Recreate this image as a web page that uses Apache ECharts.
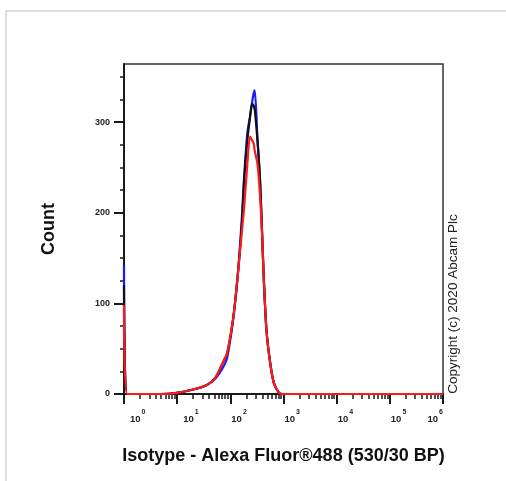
<!DOCTYPE html>
<html><head><meta charset="utf-8">
<script src="https://cdn.jsdelivr.net/npm/echarts@6/dist/echarts.min.js"></script>
<style>html,body{margin:0;padding:0;background:#fff}#c{width:506px;height:481px}</style>
</head><body><div id="c"></div>
<script>
// x values: log10 of fluorescence intensity (10^0 .. 10^6)
const logIntensity = [0, 0.06, 0.5, 0.7, 0.96, 1.30, 1.56, 1.72, 1.87, 1.94, 2.04, 2.10, 2.16, 2.22, 2.26, 2.32, 2.37, 2.41, 2.44, 2.46, 2.51, 2.56, 2.60, 2.63, 2.68, 2.75, 2.82, 2.92, 2.98, 3.5, 6];
const countBlue  = [142, 0, 0, 0, 1, 5, 10, 17, 30, 40, 76, 107, 146, 198, 240, 288, 306, 322, 332, 335, 282, 232, 173, 126, 70, 34, 12, 1, 0, 0, 0];
const countBlack = [120, 0, 0, 0, 1, 5, 10, 18, 36, 45, 78, 107, 144, 190, 236, 280, 305, 320, 318, 313, 280, 236, 173, 126, 70, 34, 12, 1, 0, 0, 0];
const countRed   = [98, 0, 0, 0, 1, 5, 10, 18, 36, 45, 78, 107, 144, 181, 206, 254, 284, 280, 276, 268, 254, 217, 173, 126, 70, 34, 12, 1, 0, 0, 0];
const decadeExponents = [0, 1, 2, 3, 4, 5, 6];
const yTickLabels = [0, 100, 200, 300];
const yMinorTicks = [25, 50, 75, 125, 150, 175, 225, 250, 275, 325, 350];
const xTitle = 'Isotype - Alexa Fluor®488 (530/30 BP)';
const yTitle = 'Count';
const copyright = 'Copyright (c) 2020 Abcam Plc';

const minorLogTicks = [];
for (let i = 0; i < decadeExponents.length - 1; i++) {
  for (let k = 2; k <= 9; k++) minorLogTicks.push(decadeExponents[i] + Math.log10(k));
}
const pts = arr => logIntensity.map((x, i) => [x, arr[i]]);
const FONT = 'Liberation Sans';
const INK = '#1a1a1a';
const chart = echarts.init(document.getElementById('c'), null, {renderer: 'canvas'});
chart.setOption({
  animation: false,
  backgroundColor: '#fff',
  grid: {left: 124, right: 63, top: 64, bottom: 87, show: true, borderColor: '#333', borderWidth: 1.5, backgroundColor: 'transparent'},
  xAxis: [{
    type: 'value', min: 0, max: 6, interval: 1, position: 'bottom',
    axisLine: {show: true, onZero: false, lineStyle: {color: INK, width: 2}},
    axisTick: {show: true, length: 10, lineStyle: {color: INK, width: 2}},
    splitLine: {show: false},
    axisLabel: {
      margin: 15, align: 'left', alignMaxLabel: 'right',
      formatter: (v) => {
        const e = Math.round(v);
        return (e <= 1 ? '{p|10}' : '{n|10}') + '{s|' + e + '}';
      },
      rich: {
        n: {fontFamily: FONT, fontWeight: 'bold', fontSize: 9.5, color: '#222', lineHeight: 15, verticalAlign: 'bottom', padding: [0, 0, 0, 1]},
        p: {fontFamily: FONT, fontWeight: 'bold', fontSize: 9.5, color: '#222', lineHeight: 15, verticalAlign: 'bottom', padding: [0, 0, 0, 6]},
        s: {fontFamily: FONT, fontWeight: 'bold', fontSize: 7, color: '#222', lineHeight: 15, verticalAlign: 'top', padding: [0, 0, 0, 1]}
      }
    },
    name: xTitle, nameLocation: 'middle', nameGap: 53,
    nameTextStyle: {fontFamily: FONT, fontWeight: 'bold', fontSize: 18, color: '#111'}
  }, {
    type: 'value', min: 0, max: 6, position: 'bottom',
    axisLine: {show: false, onZero: false},
    axisTick: {show: true, length: 5, customValues: minorLogTicks, lineStyle: {color: INK, width: 1.5}},
    axisLabel: {show: false},
    splitLine: {show: false}
  }],
  yAxis: [{
    type: 'value', min: 0, max: 364, position: 'left',
    axisLine: {show: true, onZero: false, lineStyle: {color: INK, width: 2}},
    axisTick: {show: true, length: 10, customValues: yTickLabels, lineStyle: {color: INK, width: 2}},
    splitLine: {show: false},
    axisLabel: {margin: 14, customValues: yTickLabels, fontFamily: FONT, fontWeight: 'bold', fontSize: 9, color: '#222'},
    name: yTitle, nameLocation: 'middle', nameGap: 66,
    nameTextStyle: {fontFamily: FONT, fontWeight: 'bold', fontSize: 18, color: '#111'}
  }, {
    type: 'value', min: 0, max: 364, position: 'left',
    axisLine: {show: false, onZero: false},
    axisTick: {show: true, length: 4, customValues: yMinorTicks, lineStyle: {color: INK, width: 1.5}},
    axisLabel: {show: false},
    splitLine: {show: false}
  }],
  graphic: [
    {type: 'rect', shape: {x: 6, y: 11, width: 700, height: 700}, style: {fill: 'none', stroke: '#dedede', lineWidth: 2}, silent: true, z: -10},
    {type: 'text', x: 453, y: 304, rotation: Math.PI / 2,
      style: {text: copyright, fontFamily: FONT, fontSize: 13.5, fill: '#222', align: 'center', verticalAlign: 'middle'}}
  ],
  series: [
    {type: 'line', name: 'Blue', data: pts(countBlue), showSymbol: false, smooth: 0.25, lineStyle: {color: '#1a1aff', width: 2.2}, z: 2},
    {type: 'line', name: 'Black', data: pts(countBlack), showSymbol: false, smooth: 0.25, lineStyle: {color: '#111', width: 2.2}, z: 3},
    {type: 'line', name: 'Red', data: pts(countRed), showSymbol: false, smooth: 0.25, lineStyle: {color: '#ff1a1a', width: 2.2}, z: 4}
  ]
});
</script></body></html>
